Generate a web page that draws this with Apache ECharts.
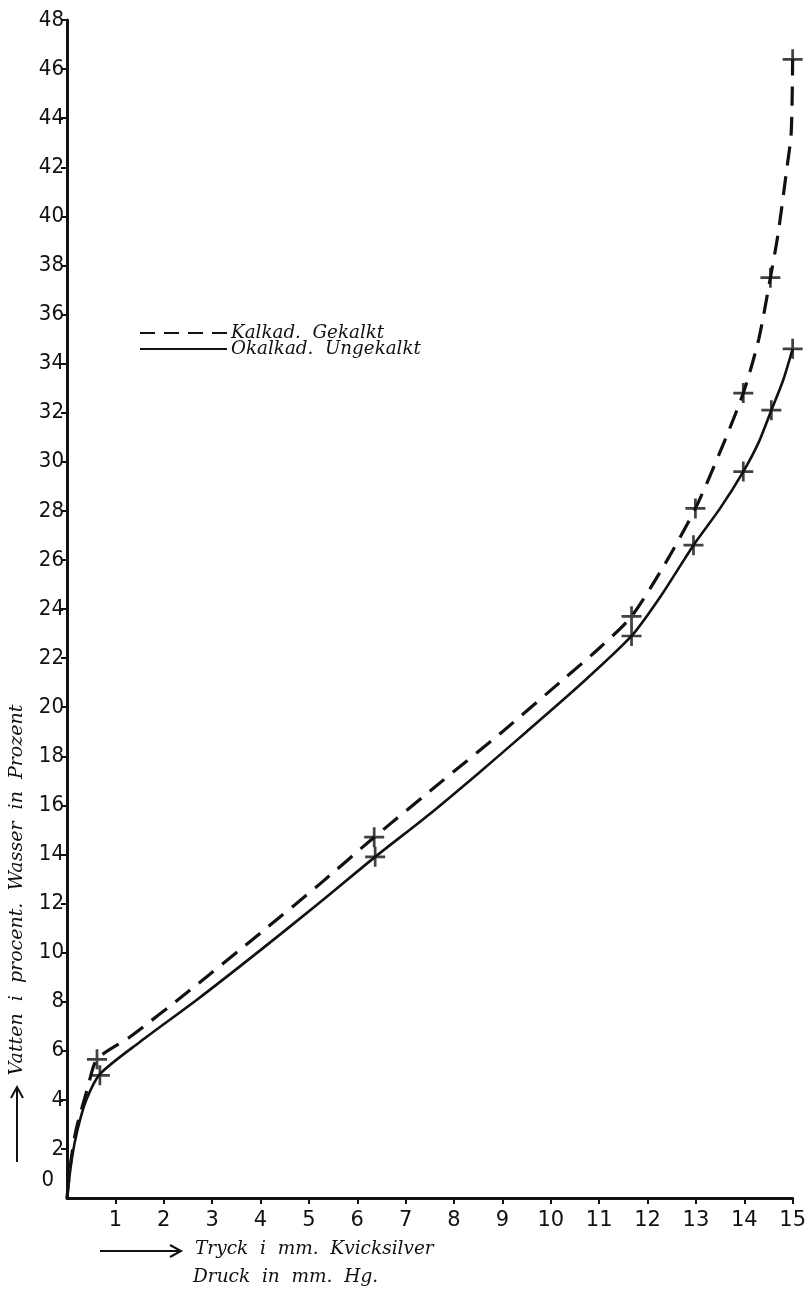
<!DOCTYPE html>
<html>
<head>
<meta charset="utf-8">
<script src="https://cdn.jsdelivr.net/npm/echarts@6/dist/echarts.min.js"></script>
<style>
html, body { margin: 0; padding: 0; background: #fff; }
#chart { width: 809px; height: 1292px; }
</style>
</head>
<body>
<div id="chart"></div>
<script>
// Measured points (pressure in mm Hg, water content in percent)
const kalkadX = [0.62, 6.35, 11.67, 12.99, 13.98, 14.54, 15.0];
const kalkadY = [5.65, 14.7, 23.7, 28.1, 32.8, 37.5, 46.4];
const okalkadX = [0.68, 6.37, 11.67, 12.95, 13.98, 14.56, 15.0];
const okalkadY = [5.0, 13.9, 22.9, 26.6, 29.6, 32.1, 34.6];

// Drawn curves through the measurements, starting at the origin
const kalkadCurveX = [0, 0.08, 0.19, 0.43, 0.62, 1.3, 2.5, 4.0, 5.2, 6.35, 7.7, 9.0, 10.3, 11.0, 11.67, 12.35, 12.99, 13.5, 13.98, 14.3, 14.54, 14.7, 14.87, 14.97, 15.0];
const kalkadCurveY = [0, 1.5, 2.8, 4.5, 5.65, 6.56, 8.4, 10.8, 12.75, 14.7, 16.9, 19.0, 21.2, 22.4, 23.7, 25.8, 28.1, 30.4, 32.8, 35.0, 37.5, 39.3, 41.8, 43.4, 46.4];
const okalkadCurveX = [0, 0.1, 0.22, 0.4, 0.68, 1.5, 2.7, 4.0, 5.2, 6.37, 7.5, 8.5, 9.5, 10.6, 11.67, 12.3, 12.95, 13.5, 13.98, 14.3, 14.56, 14.8, 15.0];
const okalkadCurveY = [0, 1.6, 2.8, 4.0, 5.05, 6.35, 8.1, 10.1, 12.0, 13.9, 15.65, 17.3, 19.0, 20.9, 22.9, 24.6, 26.6, 28.1, 29.6, 30.8, 32.1, 33.3, 34.6];

// Axis ticks and labels
const xTicks = [1, 2, 3, 4, 5, 6, 7, 8, 9, 10, 11, 12, 13, 14, 15];
const yTicks = [2, 4, 6, 8, 10, 12, 14, 16, 18, 20, 22, 24, 26, 28, 30, 32, 34, 36, 38, 40, 42, 44, 46, 48];
const yLabels = [0, 2, 4, 6, 8, 10, 12, 14, 16, 18, 20, 22, 24, 26, 28, 30, 32, 34, 36, 38, 40, 42, 44, 46, 48];

const seriesNames = ['Kalkad.  Gekalkt', 'Okalkad.  Ungekalkt'];
const yTitle = 'Vatten  i  procent.  Wasser  in  Prozent';
const xTitle1 = 'Tryck  i  mm.  Kvicksilver';
const xTitle2 = 'Druck  in  mm.  Hg.';

const zip = (xs, ys) => xs.map((x, i) => [x, ys[i]]);

const INK = '#111';
const numFont = '"DejaVu Sans Condensed", "DejaVu Sans", sans-serif';
const textFont = '"DejaVu Serif", serif';
// plus-shaped marker
const plus = 'path://M9.5,0h3v9.5h9.5v3h-9.5v9.5h-3v-9.5h-9.5v-3h9.5z';

const chart = echarts.init(document.getElementById('chart'), null, { renderer: 'canvas' });

chart.setOption({
  backgroundColor: '#fff',
  animation: false,
  grid: { left: 67, right: 14, top: 20, bottom: 94 },
  xAxis: {
    type: 'value', min: 0, max: 15, interval: 1,
    splitLine: { show: false },
    axisLine: { lineStyle: { color: INK, width: 3 } },
    axisTick: { customValues: xTicks, length: 6, lineStyle: { color: INK, width: 2 } },
    axisLabel: {
      customValues: xTicks, margin: 12,
      color: INK, fontSize: 21, fontFamily: '"DejaVu Sans", sans-serif'
    }
  },
  yAxis: {
    type: 'value', min: 0, max: 48, interval: 2,
    splitLine: { show: false },
    axisLine: { lineStyle: { color: INK, width: 3 } },
    axisTick: { customValues: yTicks, length: 6, lineStyle: { color: INK, width: 2 } },
    axisLabel: {
      customValues: yLabels, margin: 3,
      color: INK, fontSize: 22, fontFamily: numFont,
      formatter: v => (v === 0 ? '{z|0}' : String(v)),
      rich: { z: { color: INK, fontSize: 22, fontFamily: numFont, padding: [0, 10, 36, 0] } }
    }
  },
  series: [
    {
      name: seriesNames[0], type: 'line', data: zip(kalkadCurveX, kalkadCurveY),
      smooth: 0.25, showSymbol: false, symbol: 'none',
      lineStyle: { color: INK, width: 3.2, type: [19, 11] }, z: 3
    },
    {
      name: seriesNames[1], type: 'line', data: zip(okalkadCurveX, okalkadCurveY),
      smooth: 0.25, showSymbol: false, symbol: 'none',
      lineStyle: { color: INK, width: 2.6, type: 'solid' }, z: 3
    },
    {
      name: seriesNames[0] + ' ', type: 'scatter', data: zip(kalkadX, kalkadY),
      symbol: plus, symbolSize: 20, itemStyle: { color: INK }, z: 4
    },
    {
      name: seriesNames[1] + ' ', type: 'scatter', data: zip(okalkadX, okalkadY),
      symbol: plus, symbolSize: 20, itemStyle: { color: INK }, z: 4
    }
  ],
  graphic: [
    // legend
    { type: 'line', shape: { x1: 140, y1: 333, x2: 227, y2: 333 },
      style: { stroke: INK, lineWidth: 2, lineDash: [15, 9] } },
    { type: 'text', x: 231, y: 333,
      style: { text: seriesNames[0], fill: INK, font: 'italic 18.3px ' + textFont, verticalAlign: 'middle', align: 'left' } },
    { type: 'line', shape: { x1: 140, y1: 349, x2: 227, y2: 349 },
      style: { stroke: INK, lineWidth: 2 } },
    { type: 'text', x: 231, y: 349,
      style: { text: seriesNames[1], fill: INK, font: 'italic 18.3px ' + textFont, verticalAlign: 'middle', align: 'left' } },
    // vertical axis title with arrow
    { type: 'text', x: 17, y: 890, rotation: Math.PI / 2,
      style: { text: yTitle, fill: INK, font: 'italic 19px ' + textFont, align: 'center', verticalAlign: 'middle' } },
    { type: 'line', shape: { x1: 17, y1: 1162, x2: 17, y2: 1088 }, style: { stroke: INK, lineWidth: 2 } },
    { type: 'polyline', shape: { points: [[11, 1098], [17, 1087], [23, 1098]] }, style: { stroke: INK, lineWidth: 2, fill: null } },
    // horizontal axis title with arrow
    { type: 'line', shape: { x1: 100, y1: 1251, x2: 180, y2: 1251 }, style: { stroke: INK, lineWidth: 2 } },
    { type: 'polyline', shape: { points: [[170, 1245], [181, 1251], [170, 1257]] }, style: { stroke: INK, lineWidth: 2, fill: null } },
    { type: 'text', x: 195, y: 1249,
      style: { text: xTitle1, fill: INK, font: 'italic 18.5px ' + textFont, align: 'left', verticalAlign: 'middle' } },
    { type: 'text', x: 193, y: 1277,
      style: { text: xTitle2, fill: INK, font: 'italic 18.5px ' + textFont, align: 'left', verticalAlign: 'middle' } }
  ]
});
</script>
</body>
</html>
